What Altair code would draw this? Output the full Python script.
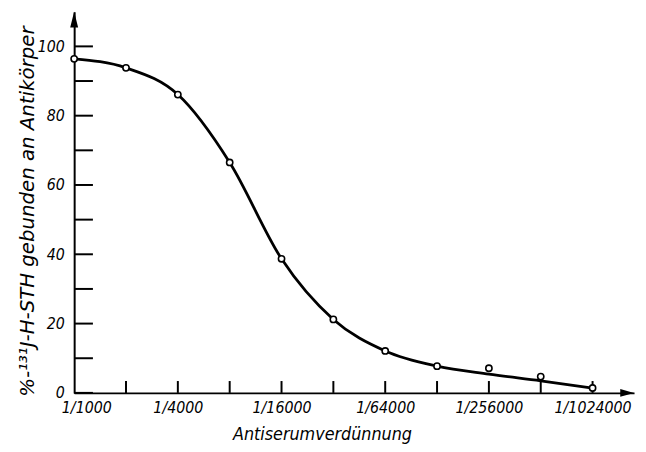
import altair as alt
import pandas as pd

# dilution steps (factor 2 each), labels only on every second step
steps = [0, 1, 2, 3, 4, 5, 6, 7, 8, 9, 10]
dilution_labels = ["1/1000", "", "1/4000", "", "1/16000", "", "1/64000", "",
                   "1/256000", "", "1/1024000"]
# measured points (% bound)
measured = [96.4, 93.8, 86.1, 66.5, 38.7, 21.2, 12.1, 7.7, 7.1, 4.7, 1.4]
# smooth fitted curve at each step
curve = [96.4, 93.8, 86.1, 66.5, 38.7, 21.2, 12.1, 7.7, 5.4, 3.5, 1.4]
y_ticks = [0, 10, 20, 30, 40, 50, 60, 70, 80, 90, 100]
x_ticks = [1, 2, 3, 4, 5, 6, 7, 8, 9, 10]
x_max = 10.8
y_max = 110

W, H = 567, 386
FONT = "DejaVu Sans Condensed, Liberation Sans, sans-serif"
TITLE_FONT_Y = "DejaVu Sans, sans-serif"

df = pd.DataFrame({"step": steps, "measured": measured, "curve": curve})
df_yt = pd.DataFrame({"yt": y_ticks})
df_xt = pd.DataFrame({"xt": x_ticks})
df_arrow_up = pd.DataFrame({"ax": [0], "ay": [y_max]})
df_arrow_right = pd.DataFrame({"ax": [x_max], "ay": [0]})

xscale = alt.Scale(domain=[0, x_max], nice=False, zero=False)
yscale = alt.Scale(domain=[0, y_max], nice=False)

label_js = "[" + ",".join("'" + s + "'" for s in dilution_labels) + "]"

x_axis = alt.Axis(
    values=steps,
    labelExpr=label_js + "[datum.value]",
    ticks=False, grid=False,
    domainColor="black", domainWidth=2,
    labelFont=FONT, labelFontSize=16, labelFontStyle="italic", labelColor="black",
    labelPadding=7, labelOverlap=False,
    labelFlush=True, labelFlushOffset=13,
    title="Antiserumverdünnung",
    titleFont=FONT, titleFontSize=18, titleFontStyle="italic", titleFontWeight="normal",
    titleColor="black", titleX=251, titleY=42, titleAlign="center", titleBaseline="middle",
)
y_axis = alt.Axis(
    values=y_ticks,
    labelExpr="datum.value % 20 === 0 ? datum.label : ''",
    ticks=False, grid=False,
    domainColor="black", domainWidth=2,
    labelFont=FONT, labelFontSize=16, labelFontStyle="italic", labelColor="black",
    labelPadding=10, labelFlush=False,
    title="%-¹³¹J-H-STH gebunden an Antikörper",
    titleFont=TITLE_FONT_Y, titleFontSize=20, titleFontStyle="italic", titleFontWeight="normal",
    titleColor="black", titleX=-47, titleY=202, titleAngle=270,
    titleAlign="center", titleBaseline="middle",
)

line = alt.Chart(df).mark_line(color="black", strokeWidth=2.8, interpolate="monotone").encode(
    x=alt.X("step:Q", scale=xscale, axis=x_axis),
    y=alt.Y("curve:Q", scale=yscale, axis=y_axis),
)

points = alt.Chart(df).mark_point(shape="circle", filled=True, fill="white", stroke="black",
                                  strokeWidth=1.6, size=40, opacity=1).encode(
    x=alt.X("step:Q", scale=xscale, axis=x_axis),
    y=alt.Y("measured:Q", scale=yscale, axis=y_axis),
)

ytick_rules = alt.Chart(df_yt).mark_rule(color="black", strokeWidth=2).encode(
    y=alt.Y("yt:Q", scale=yscale, axis=y_axis),
    x=alt.value(0), x2=alt.value(19),
)

xtick_rules = alt.Chart(df_xt).mark_rule(color="black", strokeWidth=2).encode(
    x=alt.X("xt:Q", scale=xscale, axis=x_axis),
    y=alt.value(H), y2=alt.value(H - 12),
)

arrow_up = alt.Chart(df_arrow_up).mark_point(
    shape="M0,-1L0.5,1L-0.5,1Z", filled=True, color="black", size=256, opacity=1, yOffset=8
).encode(
    x=alt.X("ax:Q", scale=xscale, axis=x_axis),
    y=alt.Y("ay:Q", scale=yscale, axis=y_axis),
)

arrow_right = alt.Chart(df_arrow_right).mark_point(
    shape="M1,0L-1,0.55L-1,-0.55Z", filled=True, color="black", size=196, opacity=1, xOffset=-7
).encode(
    x=alt.X("ax:Q", scale=xscale, axis=x_axis),
    y=alt.Y("ay:Q", scale=yscale, axis=y_axis),
)

chart = alt.layer(line, ytick_rules, xtick_rules, points, arrow_up, arrow_right).properties(
    width=W, height=H,
    autosize=alt.AutoSizeParams(type="none"),
    padding={"left": 67, "top": 1, "right": 4, "bottom": 50},
    background="white",
).configure_view(stroke=None)

chart.save("out.html", embed_options={"renderer": "svg", "actions": False})
